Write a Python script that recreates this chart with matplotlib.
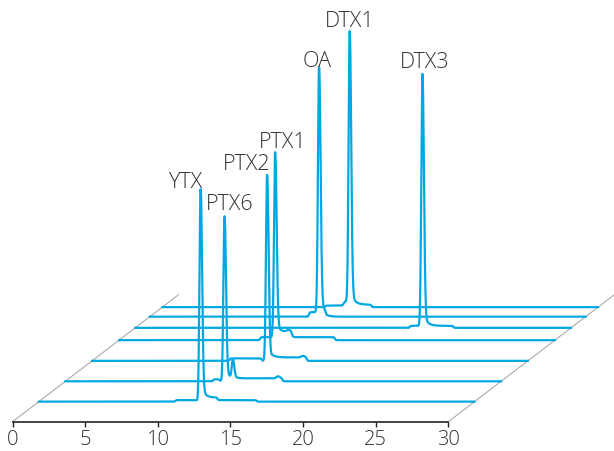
import numpy as np
import matplotlib.pyplot as plt

plt.rcParams['font.family'] = ['Open Sans', 'DejaVu Sans']

# retention time axis (min)
time_ticks = [0, 5, 10, 15, 20, 25, 30]

# position of each trace on the slanted floor (0 = front edge, 1 = back edge)
depth = [0.158, 0.318, 0.479, 0.642, 0.739, 0.827, 0.902]

# main peak of every trace
peak_names = ["YTX", "PTX6", "PTX2", "PTX1", "DTX3", "OA", "DTX1"]
peak_times = [11.14, 10.96, 12.05, 10.74, 19.77, 11.65, 12.90]
peak_heights = [212, 165, 186, 185, 252, 245, 274]

# small extra peaks: (time, height, width)
minor_peaks = [
    [],
    [(11.53, 18, 0.07), (14.63, 2.0, 0.1)],
    [(14.5, 1.5, 0.1)],
    [(11.65, 2.0, 0.12)],
    [],
    [],
    [(12.6, 4.0, 0.1)],
]

# raised baseline stretches: (start, end, level)
shelves = [
    [(9.4, 10.9, 1.5), (11.2, 12.3, 2.5), (11.2, 15.0, 1.5)],
    [(10.16, 10.64, 2.0), (11.2, 14.95, 3.0)],
    [(9.48, 11.68, 2.5), (12.35, 14.78, 3.5)],
    [(9.7, 14.85, 3.0), (10.9, 11.9, 5.0)],
    [(18.9, 21.9, 2.0)],
    [(10.95, 12.1, 4.5)],
    [(11.2, 14.4, 1.5), (13.1, 14.4, 1.0)],
]

# floor size, in minutes across and signal units up
floor_dx = 11.43
floor_dy = 127.0

line_color = '#00a8e3'


def peak(t, t0, h, sl=0.075, sr=0.10):
    dt = t - t0
    s = np.where(dt < 0, sl, sr)
    y = h * np.exp(-0.5 * (dt / s) ** 2)
    tail = np.where(dt > 0, h * 0.06 * np.exp(-dt / 0.25) * (1 - np.exp(-(dt / 0.05) ** 2)), 0)
    return y + tail


def shelf(t, a, b, level, soft=0.06):
    return level * 0.5 * (np.tanh((t - a) / soft) - np.tanh((t - b) / soft))


def main():
    fig = plt.figure(figsize=(6.14, 4.52), dpi=100)
    ax = fig.add_axes([12.5 / 614, 29.3 / 452, 435.8 / 614, 422.7 / 452])
    ax.set_xlim(0, 30)
    ax.set_ylim(0, 422.7)

    t = np.linspace(0, 30, 6001)

    # slanted floor edges
    for x0 in (0, 30):
        ax.plot([x0, x0 + floor_dx], [0, floor_dy], color='#a0a0a0', lw=0.7, clip_on=False)

    for i in range(len(depth) - 1, -1, -1):
        sig = peak(t, peak_times[i], peak_heights[i])
        for tm, h, w in minor_peaks[i]:
            sig = sig + peak(t, tm, h, w, w * 1.4)
        for a, b, lev in shelves[i]:
            sig = sig + shelf(t, a, b, lev)
        ox = depth[i] * floor_dx
        oy = depth[i] * floor_dy
        ax.plot(t + ox, sig + oy, color=line_color, lw=1.6, clip_on=False,
                solid_joinstyle='round')

    # peak labels, offsets in pixels from the apex
    label_dx = [-15.7, 5.3, -20.3, 7.2, 1.8, -1.8, 0]
    label_dy = [1.7, 6, 5, 7.4, 7.7, 4.4, 6.5]
    for i, name in enumerate(peak_names):
        xa = peak_times[i] + depth[i] * floor_dx
        ya = peak_heights[i] + depth[i] * floor_dy + 1
        ax.annotate(name, xy=(xa, ya), xytext=(label_dx[i], label_dy[i]),
                    textcoords='offset pixels', ha='center', va='baseline',
                    fontsize=15.5, fontweight='light', color='#333333',
                    annotation_clip=False)

    for side in ('left', 'right', 'top'):
        ax.spines[side].set_visible(False)
    ax.spines['bottom'].set_color('#222222')
    ax.spines['bottom'].set_linewidth(1.2)
    ax.set_yticks([])
    ax.set_xticks(time_ticks)
    ax.tick_params(axis='x', direction='out', length=3.5, width=1.0,
                   color='#222222', labelsize=14.5, labelcolor='#333333', pad=2)
    for lab in ax.get_xticklabels():
        lab.set_fontweight('light')
    ax.patch.set_visible(False)

    fig.savefig('out.png', dpi=100)


if __name__ == "__main__":
    main()
